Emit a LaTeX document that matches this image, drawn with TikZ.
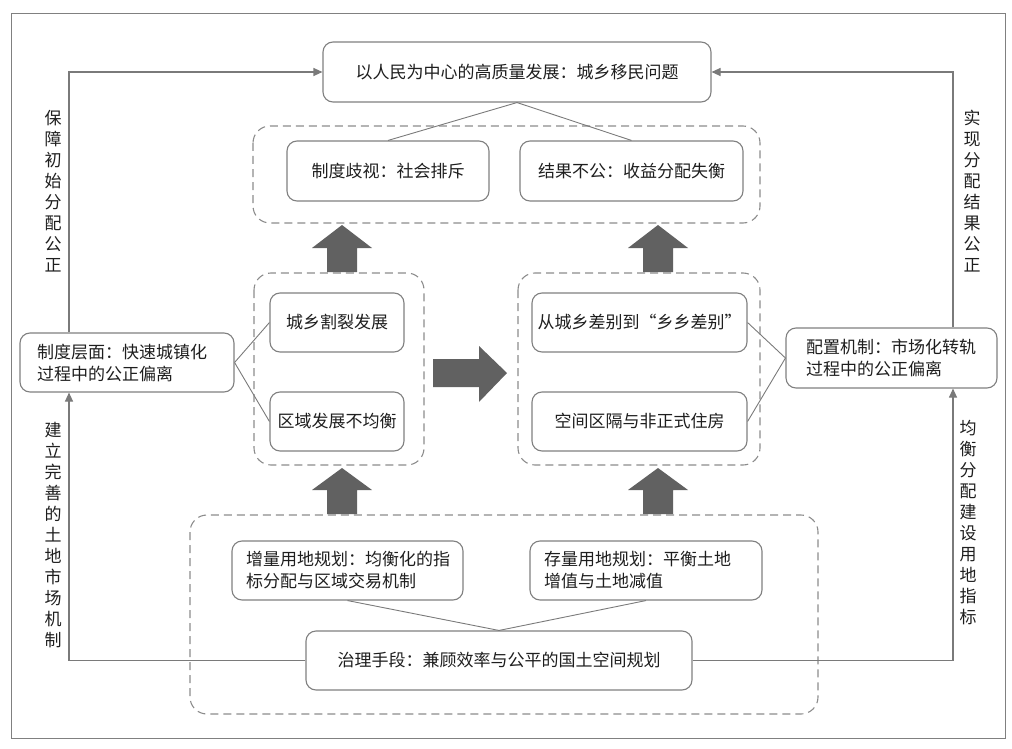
\documentclass[tikz,border=0pt]{standalone}
\usepackage{fontspec}
\newfontfamily\cjk{Noto Sans CJK SC}
\usetikzlibrary{arrows.meta,calc}
\definecolor{lineg}{HTML}{7A7A7A}
\definecolor{boxg}{HTML}{808080}
\definecolor{dashg}{HTML}{8C8C8C}
\definecolor{blockg}{HTML}{616161}
\definecolor{txt}{HTML}{1E1E1E}
\tikzset{
  box/.style={draw=boxg, line width=1.1pt, rounded corners=10pt, fill=white,
    inner sep=0pt, text=txt, font=\cjk\fontsize{17}{22}\selectfont},
  dashbox/.style={draw=dashg, line width=1.1pt, rounded corners=17pt, dash pattern=on 8pt off 5pt},
  thin/.style={draw=lineg, line width=0.9pt},
  conn/.style={draw=lineg, line width=1.1pt, -{Triangle[length=9pt,width=8pt]}},
  blockarrow/.style={fill=blockg, draw=none},
  vtext/.style={text=txt, font=\cjk\fontsize{17}{21}\selectfont, align=center, inner sep=0pt},
}
\begin{document}
\begin{tikzpicture}[x=1pt,y=-1pt]
\useasboundingbox (0,0) rectangle (1012,749);
\draw[boxg, line width=0.9pt] (11,13) rectangle (1005,738);

% dashed groups
\draw[dashbox] (253,126) rectangle (760,223);
\draw[dashbox] (254,273) rectangle (424,465);
\draw[dashbox] (518,273) rectangle (760,465);
\draw[dashbox] (190,515) rectangle (818,714);

% nodes
\node[box, minimum width=388pt, minimum height=60pt] (top) at (517,72) {以人民为中心的高质量发展：城乡移民问题};
\node[box, minimum width=202pt, minimum height=60pt] (tl) at (388,171) {制度歧视：社会排斥};
\node[box, minimum width=223pt, minimum height=60pt] (tr) at (631.5,171) {结果不公：收益分配失衡};
\node[box, minimum width=134pt, minimum height=59pt] (ml1) at (337,322.5) {城乡割裂发展};
\node[box, minimum width=134pt, minimum height=59pt] (ml2) at (337,421.5) {区域发展不均衡};
\node[box, minimum width=215pt, minimum height=59pt] (mr1) at (639.5,322.5) {从城乡差别到“乡乡差别”};
\node[box, minimum width=215pt, minimum height=59pt] (mr2) at (639.5,421.5) {空间区隔与非正式住房};
\node[box, minimum width=214pt, minimum height=59pt, text width=180pt, align=left] (L) at (127,362.5) {制度层面：快速城镇化\\过程中的公正偏离};
\node[box, minimum width=211pt, minimum height=60pt, text width=171pt, align=left] (R) at (891.5,358) {配置机制：市场化转轨\\过程中的公正偏离};
\node[box, minimum width=231pt, minimum height=59pt, text width=203pt, align=left] (b1) at (347.5,570.5) {增量用地规划：均衡化的指\\标分配与区域交易机制};
\node[box, minimum width=232pt, minimum height=59pt, text width=204pt, align=left] (b2) at (646,570.5) {存量用地规划：平衡土地\\增值与土地减值};
\node[box, minimum width=386pt, minimum height=59pt] (B) at (499,660.5) {治理手段：兼顾效率与公平的国土空间规划};

% thin links
\draw[thin] (top.south) -- (tl.north);
\draw[thin] (top.south) -- (tr.north);
\draw[thin] (L.east) -- (ml1.west);
\draw[thin] (L.east) -- (ml2.west);
\draw[thin] (R.west) -- (mr1.east);
\draw[thin] (R.west) -- (mr2.east);
\draw[thin] (b1.south) -- (B.north);
\draw[thin] (b2.south) -- (B.north);

% connectors
\coordinate (lx) at (69,72);
\coordinate (rx) at (953,72);
\draw[conn] (L.north -| lx) |- (top.west);
\draw[conn] (R.north -| rx) |- (top.east);
\draw[conn] (B.west) -| (L.south -| lx);
\draw[conn] (B.east) -| (R.south -| rx);

% vertical labels
\node[vtext] (v1) at (53,191.5) {保\\障\\初\\始\\分\\配\\公\\正};
\node[vtext] (v2) at (53,535) {建\\立\\完\\善\\的\\土\\地\\市\\场\\机\\制};
\node[vtext] (v3) at (972,191.5) {实\\现\\分\\配\\结\\果\\公\\正};
\node[vtext] (v4) at (968,522.5) {均\\衡\\分\\配\\建\\设\\用\\地\\指\\标};

% block arrows
\foreach \cx/\yb/\yh/\yt in {342/272/248/225, 658/272/248/225, 342/514/490/468, 658/514/490/468}{
  \fill[blockarrow] (\cx-15,\yb) -- (\cx+15,\yb) -- (\cx+15,\yh) -- (\cx+30,\yh) -- (\cx,\yt) -- (\cx-30,\yh) -- (\cx-15,\yh) -- cycle;
}
\fill[blockarrow] (433,359) -- (479,359) -- (479,346) -- (507,373) -- (479,402) -- (479,387) -- (433,387) -- cycle;
\end{tikzpicture}
\end{document}
